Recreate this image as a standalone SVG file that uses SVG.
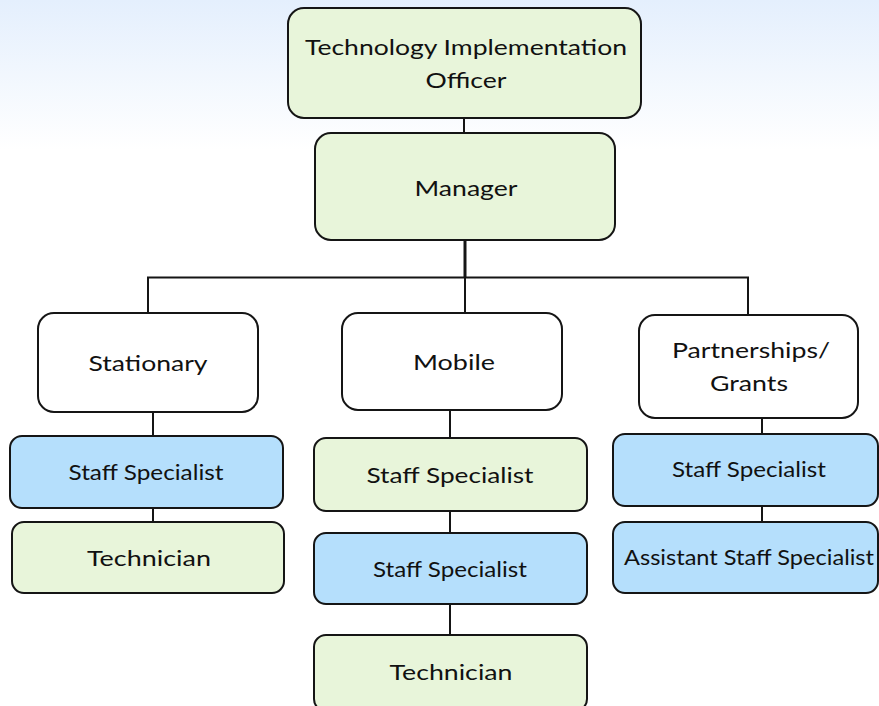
<svg xmlns="http://www.w3.org/2000/svg" width="879" height="706" viewBox="0 0 879 706">
<defs>
<linearGradient id="bg" x1="0" y1="0" x2="0" y2="1">
<stop offset="0" stop-color="#e4effd"/>
<stop offset="1" stop-color="#ffffff"/>
</linearGradient>
</defs>
<style>
.box{stroke:#151515;stroke-width:2}
.g{fill:#e8f5da}
.b{fill:#b5dffc}
.w{fill:#ffffff}
.t{font-family:Lato,"Open Sans",sans-serif;font-size:22px;fill:#111;text-anchor:middle}
.c{stroke:#151515;stroke-width:2;fill:none}
</style>
<rect x="0" y="0" width="879" height="706" fill="#ffffff"/>
<rect x="0" y="0" width="879" height="150" fill="url(#bg)"/>
<g id="connectors">
<path class="c" d="M464 118V133"/>
<path class="c" d="M465 240V278" style="stroke-width:3"/>
<path class="c" d="M148 313V277.5H748V315"/>
<path class="c" d="M465 277.5V313"/>
<path class="c" d="M153 412V436M153 508V522"/>
<path class="c" d="M450 410V438M450 511V533M450 604V635"/>
<path class="c" d="M762 418V434M762 506V522"/>
</g>
<g id="officer">
<rect class="box g" x="288" y="8" width="353" height="110" rx="16"/>
<text class="t" x="466" y="55" font-size="24" textLength="322" lengthAdjust="spacingAndGlyphs">Technology Implementation</text>
<text class="t" x="466" y="88" font-size="24" textLength="81" lengthAdjust="spacingAndGlyphs">Officer</text>
</g>
<g id="manager">
<rect class="box g" x="315" y="133" width="300" height="107" rx="16"/>
<text class="t" x="466" y="196" textLength="103" lengthAdjust="spacingAndGlyphs">Manager</text>
</g>
<g id="stationary">
<rect class="box w" x="38" y="313" width="220" height="99" rx="16"/>
<text class="t" x="148" y="371" textLength="119" lengthAdjust="spacingAndGlyphs">Stationary</text>
</g>
<g id="mobile">
<rect class="box w" x="342" y="313" width="220" height="97" rx="16"/>
<text class="t" x="454" y="370" textLength="82" lengthAdjust="spacingAndGlyphs">Mobile</text>
</g>
<g id="partnerships">
<rect class="box w" x="639" y="315" width="219" height="103" rx="16"/>
<text class="t" x="751" y="358" textLength="158" lengthAdjust="spacingAndGlyphs">Partnerships/</text>
<text class="t" x="749" y="391" textLength="78" lengthAdjust="spacingAndGlyphs">Grants</text>
</g>
<g id="stat-staff">
<rect class="box b" x="10" y="436" width="273" height="72" rx="12"/>
<text class="t" x="146" y="480" font-size="21" textLength="155" lengthAdjust="spacingAndGlyphs">Staff Specialist</text>
</g>
<g id="stat-tech">
<rect class="box g" x="12" y="522" width="272" height="71" rx="12"/>
<text class="t" x="149" y="566" textLength="124" lengthAdjust="spacingAndGlyphs">Technician</text>
</g>
<g id="mob-staff1">
<rect class="box g" x="314" y="438" width="273" height="73" rx="12"/>
<text class="t" x="450" y="483" textLength="167" lengthAdjust="spacingAndGlyphs">Staff Specialist</text>
</g>
<g id="mob-staff2">
<rect class="box b" x="314" y="533" width="273" height="71" rx="12"/>
<text class="t" x="450" y="577" font-size="21" textLength="154" lengthAdjust="spacingAndGlyphs">Staff Specialist</text>
</g>
<g id="mob-tech">
<rect class="box g" x="314" y="635" width="273" height="76" rx="12"/>
<text class="t" x="451" y="680" textLength="123" lengthAdjust="spacingAndGlyphs">Technician</text>
</g>
<g id="part-staff">
<rect class="box b" x="613" y="434" width="265" height="72" rx="12"/>
<text class="t" x="749" y="477" font-size="21" textLength="154" lengthAdjust="spacingAndGlyphs">Staff Specialist</text>
</g>
<g id="part-assist">
<rect class="box b" x="613" y="522" width="265" height="71" rx="12"/>
<text class="t" x="749" y="565" font-size="21" textLength="250" lengthAdjust="spacingAndGlyphs">Assistant Staff Specialist</text>
</g>
</svg>
